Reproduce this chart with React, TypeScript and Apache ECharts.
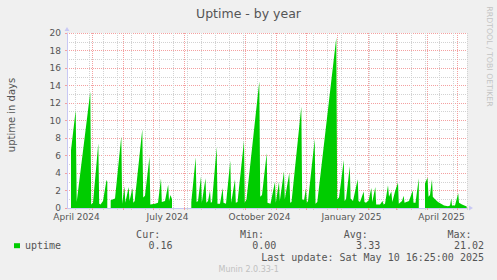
import React, { useEffect, useRef } from "react";
import * as echarts from "echarts";

// ---- data ----
const START_DATE = "2024-04-06"; // left edge of the 400-day window
const DAYS_SHOWN = 400;

const monthGridDates = [
  "2024-05-01", "2024-06-01", "2024-07-01", "2024-08-01", "2024-09-01", "2024-10-01",
  "2024-11-01", "2024-12-01", "2025-01-01", "2025-02-01", "2025-03-01", "2025-04-01", "2025-05-01",
];
const firstMinorGridDate = "2024-04-14";
const minorGridStepDays = 14;

const xTickLabels = ["April 2024", "July 2024", "October 2024", "January 2025", "April 2025"];
const xTickLabelDates = ["2024-04-15T12:00", "2024-07-15T12:00", "2024-10-15T12:00", "2025-01-15T12:00", "2025-04-15T12:00"];

const yMin = 0;
const yMax = 20;
const yInterval = 2;

const seriesName = "uptime";
const statLabels = ["Cur:", "Min:", "Avg:", "Max:"];
const statValues = ["0.16", "0.00", "3.33", "21.02"];
const lastUpdate = "Last update: Sat May 10 16:25:00 2025";

// [days since START_DATE, uptime in days]; null = no data
const uptime: [number, number | null][] = [
  [4, 6.6], [8.7, 11.2], [9.7, 0.7], [23.3, 13.3], [24.2, 0.4], [26, 0.6], [31.3, 7.4], [32.2, 0.5],
  [33.5, 0.4], [36, 0.8], [39.5, 3.2], [40.3, 3.0], [41, null],
  [43.7, 0.9], [48, 1.1], [54.3, 8.2], [55.2, 0.5], [57.5, 2.5], [58.3, 0.6], [61.7, 2.4], [62.5, 0.8],
  [65.5, 2.3], [66.3, 0.6], [67.7, 0.8], [75.3, 9.0], [76.2, 1.2], [78, 1.4], [82.5, 5.9], [83.3, 0.4],
  [88, 0.5], [91, 0.6], [94, 3.4], [94.8, 0.7], [98, 0.8], [101.2, 2.7], [102, 0.8], [103.5, 1.5],
  [105, 1.0], [105.5, null],
  [124.3, 0.7], [128.7, 5.8], [129.6, 0.7], [131, 0.8], [134, 3.6], [134.8, 0.6], [138.5, 3.4],
  [139.3, 0.6], [141, 0.8], [143, 2.0], [143.8, 0.6], [145, 0.7], [149.7, 7.0], [150.5, 0.5],
  [153, 0.5], [155.7, 2.3], [156.5, 0.6], [159, 0.5], [163.3, 5.4], [164.2, 0.6], [168, 3.3],
  [168.8, 0.6], [170.5, 0.7], [177, 7.7], [177.8, 0.6], [179.5, 1.0], [192.3, 14.5], [193.2, 1.3],
  [195, 1.5], [199.7, 6.3], [200.5, 0.6], [203.5, 0.5], [208, 3.0], [208.8, 0.6], [212, 3.0],
  [212.8, 0.8], [217, 4.2], [217.8, 1.0], [222.3, 4.0], [223.2, 0.6], [224.5, 0.7], [234.3, 11.6],
  [235.2, 1.0], [237, 0.9], [239, 2.3], [239.8, 0.6], [241, 0.8], [247.7, 7.9], [248.5, 0.5],
  [250.3, 0.7], [269.3, 19.5], [270.2, 1.0], [272, 1.2], [276.8, 5.5], [277.6, 0.8], [279, 1.0],
  [282.8, 4.8], [283.6, 1.1], [286, 0.8], [290.7, 3.3], [291.5, 0.8], [293, 0.7], [296.7, 1.9],
  [297.5, 0.7], [299, 0.6], [301.7, 0.9], [304.3, 2.3], [305.3, 0.7], [308.3, 2.4], [309.2, 0.4],
  [313, 0.4], [315.5, 0.8], [316.5, 0.4], [318, 0.5], [321, 2.6], [322, 1.3], [324.3, 1.9],
  [325.3, 0.7], [328.3, 2.0], [331, 2.9], [331.8, 0.5], [335, 0.8], [336.7, 1.4], [337.5, 0.6],
  [342, 0.8], [345.7, 2.0], [346.5, 0.6], [348.5, 0.6], [351.8, 3.4], [352.5, null],
  [358, 2.8], [360.5, 3.5], [361.5, 1.3], [363, 1.5], [365, 3.3], [365.8, 1.3], [368, 1.0],
  [371, 0.7], [374, 0.5], [377, 0.3], [381, 0.2], [383, 0.3], [384.3, 1.1], [385, 0.3], [388, 0.3],
  [391.2, 1.7], [392, 0.6], [395, 0.4], [399.7, 0.16],
];

// ---- helpers ----
const DAY_MS = 86400000;
const T0 = Date.parse(START_DATE + "T00:00:00Z");
const dayOf = (s: string) =>
  (Date.parse(s.length === 10 ? s + "T00:00:00Z" : s + ":00Z") - T0) / DAY_MS;

const monthDays = monthGridDates.map(dayOf);
const labelDays = xTickLabelDates.map(dayOf);
const minorDays: number[] = [];
for (let d = dayOf(firstMinorGridDate); d <= DAYS_SHOWN; d += minorGridStepDays) minorDays.push(d);

const SANS = "DejaVu Sans";
const MONO = "DejaVu Sans Mono";
const TEXT = "#555555";
const MAJOR = "#f4a0a0";
const MINOR = "#d2d2d2";
const AXIS = "#c8c8f4";
const GREEN = "#00cc00";

function txt(text: string, x: number, y: number, opts: any = {}) {
  return {
    type: "text",
    x,
    y,
    rotation: opts.rotation || 0,
    silent: true,
    style: {
      text,
      fontSize: opts.fontSize || 10,
      fontFamily: opts.fontFamily || MONO,
      fill: opts.fill || TEXT,
      align: opts.align || "left",
      textAlign: opts.align || "left",
      verticalAlign: "middle",
      textVerticalAlign: "middle",
    },
  };
}

export default function App() {
  const ref = useRef<HTMLDivElement>(null);

  useEffect(() => {
    if (!ref.current) return;
    const chart = echarts.init(ref.current, null, { renderer: "svg" });

    const graphics: any[] = [];
    graphics.push(txt("uptime in days", 11, 115, { rotation: Math.PI / 2, fontFamily: SANS, fontSize: 10, align: "center" }));
    graphics.push(txt("RRDTOOL / TOBI OETIKER", 489.3, 56.5, { rotation: -Math.PI / 2, fontFamily: SANS, fontSize: 7.8, fill: "#c4c4c4", align: "center" }));
    statLabels.forEach((l, i) => {
      const right = 172.6 + i * 103.8;
      graphics.push(txt(l, right - 12.4, 234.2, { align: "right" }));
      graphics.push(txt(statValues[i], right, 245.7, { align: "right" }));
    });
    graphics.push(txt(lastUpdate, 484, 257.7, { align: "right" }));
    graphics.push(txt("Munin 2.0.33-1", 248.7, 269.2, { fontFamily: SANS, fontSize: 8, fill: "#c0c0c0", align: "center" }));

    chart.setOption({
      animation: false,
      backgroundColor: "#f0f0f0",
      title: {
        text: "Uptime - by year",
        left: "center",
        top: 6.5,
        padding: 0,
        textStyle: { fontFamily: SANS, fontSize: 12.5, fontWeight: "normal", color: TEXT },
      },
      legend: {
        data: [seriesName],
        left: 14,
        top: 240.7,
        padding: 0,
        icon: "rect",
        itemWidth: 6,
        itemHeight: 5,
        itemGap: 0,
        textStyle: { fontFamily: MONO, fontSize: 10, color: TEXT },
        selectedMode: false,
      },
      grid: {
        left: 67,
        top: 33,
        width: 400,
        height: 175,
        show: true,
        backgroundColor: "#ffffff",
        borderWidth: 0,
      },
      xAxis: [
        {
          type: "value",
          min: 0,
          max: DAYS_SHOWN,
          position: "bottom",
          axisLine: {
            show: true,
            lineStyle: { color: AXIS, width: 1 },
            symbol: ["none", "triangle"],
            symbolSize: [5, 4],
            symbolOffset: [0, 4],
          },
          axisTick: { show: true, customValues: monthDays, length: 2, lineStyle: { color: MAJOR } },
          axisLabel: {
            customValues: labelDays,
            formatter: (v: number) => {
              const i = labelDays.findIndex((d) => Math.abs(d - v) < 0.01);
              return i >= 0 ? xTickLabels[i] : "";
            },
            margin: 4,
            lineHeight: 9,
            fontFamily: SANS,
            fontSize: 9,
            color: TEXT,
          },
          splitLine: { show: true, lineStyle: { color: MAJOR, type: "dotted", width: 1 } },
        },
        {
          type: "value",
          min: 0,
          max: DAYS_SHOWN,
          position: "bottom",
          axisLine: { show: false },
          axisTick: { show: true, customValues: minorDays, length: 2, lineStyle: { color: MINOR } },
          axisLabel: { show: false },
          splitLine: { show: true, lineStyle: { color: MINOR, type: "dotted", width: 1 } },
        },
      ],
      yAxis: {
        type: "value",
        min: yMin,
        max: yMax,
        interval: yInterval,
        axisLine: {
          show: true,
          lineStyle: { color: AXIS, width: 1 },
          symbol: ["none", "triangle"],
          symbolSize: [5, 4],
          symbolOffset: [0, 4],
        },
        axisTick: { show: true, length: 2, lineStyle: { color: MAJOR } },
        axisLabel: { margin: 6, lineHeight: 7, fontFamily: SANS, fontSize: 9, color: TEXT },
        splitLine: { show: true, lineStyle: { color: MAJOR, type: "dotted", width: 1 } },
        minorTick: { show: false, splitNumber: 2 },
        minorSplitLine: { show: true, lineStyle: { color: MINOR, type: "dotted", width: 1 } },
      },
      series: [
        {
          name: seriesName,
          type: "line",
          xAxisIndex: 0,
          z: 3,
          data: uptime.map(([d, v]) => [d, v === null ? "-" : v]),
          showSymbol: false,
          symbol: "none",
          connectNulls: false,
          itemStyle: { color: GREEN },
          lineStyle: { width: 0, color: GREEN },
          areaStyle: { color: GREEN, opacity: 1 },
        },
      ],
      graphic: graphics,
    });

    return () => chart.dispose();
  }, []);

  return (
    <div
      ref={ref}
      style={{ position: "fixed", left: 0, top: 0, width: 497, height: 280 }}
    />
  );
}
